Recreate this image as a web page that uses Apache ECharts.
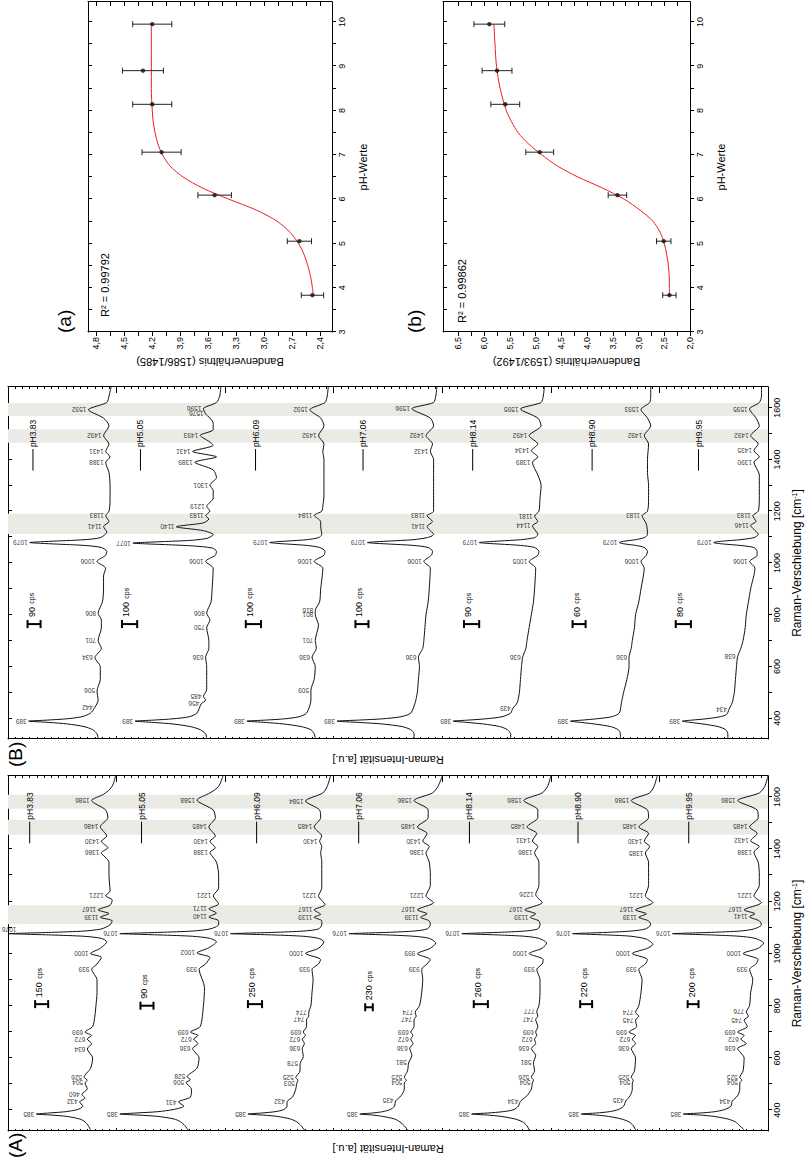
<!DOCTYPE html>
<html><head><meta charset="utf-8">
<script src="https://cdn.jsdelivr.net/npm/echarts@6/dist/echarts.min.js"></script>
<style>
html,body{margin:0;padding:0;background:#fff;overflow:hidden;width:811px;height:1167px;}
#chart{position:absolute;left:0;top:0;width:1167px;height:811px;transform-origin:0 0;transform:translate(0px,1167px) rotate(-90deg);}
</style></head><body><div id="chart"></div>
<script>
// ---------- DATA ----------
const ramanTicks = [400, 600, 800, 1000, 1200, 1400, 1600];
const ramanTicksMinor = [400, 500, 600, 700, 800, 900, 1000, 1100, 1200, 1300, 1400, 1500, 1600];
const phLabels = ['pH3.83', 'pH5.05', 'pH6.09', 'pH7.06', 'pH8.14', 'pH8.90', 'pH9.95'];

// Panel (A) spectra [Raman shift, intensity within its strip]
const spA1 = [[324,24],[340,26],[355,29],[366,34],[376,46],[381,60],[385,74],[389,62],[394,47],[402,36],[415,31],[432,34],[446,29],[460,32],[482,27],[504,29],[515,27],[526,30],[560,24],[600,22],[634,27],[655,23],[672,27],[686,23],[699,29],[720,22],[760,20],[800,19],[850,18],[900,18],[939,23],[960,18],[985,14],[1000,24],[1020,15],[1045,9],[1058,14],[1066,30],[1071,60],[1074,85],[1076,99],[1078,85],[1081,60],[1086,30],[1094,14],[1110,6],[1125,4],[1139,15],[1153,7],[1167,17],[1185,6],[1205,4],[1221,10],[1240,6],[1300,7],[1350,7],[1386,14],[1405,8],[1430,14],[1450,9],[1486,15],[1520,8],[1550,10],[1586,23],[1610,12],[1630,6],[1650,3],[1680,1]];
const spA2 = [[324,34],[340,37],[355,41],[366,47],[376,62],[381,80],[385,97],[389,82],[394,62],[402,48],[415,38],[431,43],[450,32],[480,31],[506,36],[516,32],[528,35],[560,26],[600,24],[636,30],[655,25],[672,29],[686,25],[699,32],[720,23],[800,20],[870,19],[939,24],[960,18],[985,14],[1002,26],[1022,15],[1045,8],[1058,14],[1066,30],[1071,60],[1074,83],[1076,97],[1078,83],[1081,60],[1086,30],[1094,14],[1110,6],[1125,6],[1140,15],[1155,8],[1171,15],[1190,6],[1221,11],[1250,6],[1300,6],[1350,8],[1388,14],[1405,9],[1430,14],[1450,9],[1485,15],[1520,9],[1550,11],[1588,26],[1615,14],[1640,6],[1680,2]];
const spA3 = [[324,27],[340,30],[355,34],[366,40],[376,52],[381,65],[385,79],[389,66],[394,54],[402,46],[415,43],[432,43],[450,38],[480,35],[503,34],[514,33],[525,35],[550,31],[578,31],[605,28],[636,29],[655,27],[672,29],[686,26],[699,28],[720,25],[747,25],[760,23],[774,23],[800,21],[850,20],[900,19],[939,20],[960,14],[977,12],[1000,26],[1020,14],[1045,9],[1058,14],[1066,28],[1071,55],[1074,80],[1076,95],[1078,80],[1081,55],[1086,28],[1094,14],[1110,11],[1125,11],[1139,18],[1150,12],[1167,18],[1187,8],[1221,14],[1250,11],[1300,11],[1352,11],[1386,12],[1410,11],[1430,13],[1450,11],[1485,18],[1520,12],[1550,13],[1584,26],[1615,10],[1640,6],[1680,3]];
const spA4 = [[324,32],[340,35],[355,39],[366,44],[376,55],[381,64],[385,76],[389,64],[394,55],[402,48],[415,44],[435,43],[455,38],[480,35],[504,35],[515,33],[525,35],[550,32],[581,31],[610,28],[636,30],[655,27],[672,29],[686,27],[699,29],[720,26],[747,26],[760,24],[774,25],[800,21],[850,19],[900,18],[939,19],[960,14],[977,11],[999,23],[1020,11],[1040,6],[1058,12],[1066,26],[1071,50],[1074,73],[1076,86],[1078,73],[1081,50],[1086,26],[1094,14],[1110,11],[1125,12],[1139,20],[1152,14],[1167,23],[1195,8],[1221,15],[1260,11],[1300,11],[1350,12],[1386,15],[1410,12],[1430,18],[1460,14],[1485,23],[1520,13],[1550,13],[1586,26],[1615,9],[1640,4],[1680,0]];
const spA5 = [[324,20],[340,22],[355,26],[366,33],[376,46],[381,58],[385,73],[389,58],[394,44],[402,34],[415,30],[434,28],[455,22],[480,18],[504,17],[515,16],[526,18],[550,15],[581,16],[610,14],[636,18],[655,14],[672,15],[686,13],[699,14],[720,12],[747,14],[760,12],[777,13],[800,11],[850,10],[900,10],[939,13],[960,8],[977,7],[1000,20],[1020,8],[1040,4],[1058,11],[1066,24],[1071,48],[1074,70],[1076,82],[1078,70],[1081,48],[1086,24],[1094,12],[1110,10],[1125,11],[1139,19],[1152,14],[1167,24],[1195,8],[1226,14],[1260,11],[1300,11],[1350,11],[1386,15],[1410,12],[1431,17],[1460,13],[1485,22],[1520,12],[1550,12],[1586,25],[1615,8],[1640,3],[1680,0]];
const spA6 = [[324,22],[340,24],[355,28],[366,35],[376,47],[381,58],[385,72],[389,58],[394,46],[402,38],[415,33],[435,31],[455,27],[480,25],[504,25],[515,24],[525,26],[550,23],[600,22],[636,26],[655,22],[672,25],[686,22],[699,28],[720,21],[745,22],[760,19],[774,22],[800,19],[850,17],[900,16],[939,19],[960,13],[977,11],[1000,25],[1020,11],[1035,6],[1055,12],[1066,26],[1071,48],[1074,68],[1076,80],[1078,68],[1081,48],[1086,26],[1094,13],[1110,8],[1125,10],[1139,19],[1152,12],[1167,22],[1195,6],[1221,13],[1260,10],[1300,10],[1350,10],[1385,13],[1410,9],[1430,14],[1460,10],[1485,19],[1520,10],[1550,11],[1586,26],[1615,9],[1640,5],[1680,2]];
const spA7 = [[324,22],[340,26],[355,30],[366,37],[376,50],[381,62],[385,78],[389,62],[394,49],[402,40],[415,34],[434,33],[455,28],[480,26],[504,26],[515,24],[525,26],[550,23],[600,22],[636,28],[655,20],[672,25],[686,22],[699,28],[720,19],[745,22],[760,18],[776,20],[800,17],[850,16],[900,14],[939,17],[960,11],[977,9],[1000,23],[1020,9],[1040,4],[1058,12],[1066,26],[1071,52],[1074,75],[1076,88],[1078,75],[1081,52],[1086,26],[1094,13],[1110,6],[1125,8],[1141,17],[1152,12],[1167,22],[1195,6],[1221,13],[1260,8],[1300,8],[1350,9],[1388,13],[1410,8],[1432,16],[1460,10],[1485,17],[1520,9],[1550,10],[1586,28],[1615,8],[1640,3],[1680,0]];

// Panel (B) spectra
const spB1 = [[324,17],[340,18],[356,22],[368,30],[378,45],[384,62],[389,81],[393,64],[398,46],[406,32],[420,24],[442,20],[470,17],[506,18],[550,15],[600,15],[634,20],[670,14],[701,17],[750,14],[780,14],[806,17],[850,13],[900,12],[950,12],[980,10],[1006,18],[1030,10],[1045,9],[1060,14],[1068,30],[1073,55],[1076,70],[1079,80],[1082,70],[1085,55],[1090,30],[1098,15],[1120,9],[1141,12],[1160,7],[1183,10],[1200,7],[1240,6],[1300,6],[1350,7],[1388,10],[1410,6],[1431,10],[1460,7],[1492,12],[1530,7],[1560,12],[1592,26],[1620,9],[1645,7],[1680,5]];
const spB2 = [[324,17],[340,18],[356,23],[368,32],[378,48],[384,66],[389,83],[393,66],[398,48],[406,33],[420,26],[456,22],[470,18],[485,20],[510,17],[550,17],[600,17],[636,18],[670,15],[700,15],[750,17],[780,14],[806,17],[850,13],[900,12],[980,11],[1006,18],[1030,9],[1045,8],[1058,12],[1066,30],[1071,55],[1074,73],[1077,85],[1080,73],[1083,55],[1088,30],[1096,16],[1110,11],[1125,20],[1140,45],[1155,20],[1170,15],[1183,18],[1200,14],[1219,17],[1250,11],[1280,11],[1301,14],[1330,8],[1360,11],[1389,28],[1410,8],[1431,30],[1455,11],[1470,15],[1493,23],[1515,11],[1540,11],[1560,14],[1576,18],[1596,20],[1620,8],[1645,5],[1680,4]];
const spB3 = [[324,17],[340,18],[356,21],[368,30],[378,46],[384,63],[389,80],[393,63],[398,45],[406,32],[420,25],[470,21],[509,21],[550,18],[600,17],[636,20],[670,16],[701,17],[760,14],[801,17],[816,17],[850,13],[900,12],[980,10],[1006,18],[1030,9],[1045,8],[1060,13],[1068,25],[1073,42],[1076,53],[1079,59],[1082,53],[1085,42],[1090,25],[1098,14],[1110,11],[1141,12],[1160,12],[1184,18],[1200,11],[1220,10],[1260,9],[1300,9],[1350,9],[1400,9],[1430,10],[1460,9],[1492,14],[1530,9],[1560,12],[1592,22],[1620,8],[1645,6],[1680,5]];
const spB4 = [[324,26],[340,26],[356,29],[368,37],[378,55],[384,77],[389,97],[393,77],[398,55],[406,38],[420,29],[460,25],[500,23],[550,22],[600,21],[636,22],[670,18],[700,17],[750,16],[800,15],[850,13],[900,12],[980,11],[1006,17],[1030,10],[1045,9],[1060,13],[1068,27],[1073,48],[1076,61],[1079,69],[1082,61],[1085,48],[1090,27],[1098,14],[1110,8],[1141,14],[1160,9],[1183,14],[1200,8],[1250,8],[1300,8],[1350,8],[1400,8],[1432,11],[1460,9],[1492,15],[1530,8],[1560,11],[1596,28],[1620,8],[1645,6],[1680,5]];
const spB5 = [[324,37],[340,37],[356,40],[368,47],[378,62],[384,77],[389,90],[393,76],[398,60],[406,45],[420,37],[439,35],[460,31],[500,29],[550,28],[600,27],[636,26],[670,23],[700,22],[750,20],[800,18],[850,16],[900,15],[980,14],[1005,20],[1030,12],[1045,11],[1060,15],[1068,28],[1073,47],[1076,59],[1079,66],[1082,59],[1085,47],[1090,28],[1098,15],[1110,12],[1144,17],[1160,12],[1181,15],[1200,11],[1250,10],[1300,9],[1340,12],[1389,17],[1410,12],[1434,18],[1460,12],[1492,20],[1530,9],[1560,12],[1595,28],[1620,9],[1645,7],[1680,6]];
const spB6 = [[324,36],[340,36],[356,38],[368,45],[378,60],[384,72],[389,82],[393,71],[398,58],[406,44],[420,37],[460,35],[500,33],[550,30],[600,28],[636,28],[670,26],[700,25],[750,23],[800,22],[850,19],[900,17],[980,14],[1006,17],[1030,12],[1045,11],[1060,14],[1068,22],[1073,31],[1076,35],[1079,37],[1082,35],[1085,31],[1090,22],[1098,14],[1110,11],[1150,12],[1183,16],[1200,11],[1250,10],[1300,10],[1350,11],[1400,11],[1460,10],[1492,14],[1530,8],[1560,11],[1593,17],[1620,9],[1645,8],[1680,8]];
const spB7 = [[324,37],[340,37],[356,39],[368,46],[378,60],[384,71],[389,79],[393,70],[398,57],[406,44],[415,38],[434,36],[460,33],[500,31],[550,30],[600,29],[638,28],[670,25],[700,23],[750,21],[800,20],[850,18],[900,16],[980,12],[1006,17],[1030,10],[1045,10],[1060,13],[1068,26],[1073,40],[1076,47],[1079,50],[1082,47],[1085,40],[1090,26],[1098,13],[1110,9],[1146,16],[1160,11],[1183,14],[1200,9],[1250,8],[1300,8],[1340,8],[1390,13],[1410,8],[1435,13],[1460,9],[1492,16],[1530,8],[1560,11],[1595,17],[1620,8],[1645,6],[1680,6]];

// Labelled band positions
const pkA1 = [385,432,460,504,526,634,672,699,939,1000,1076,1139,1167,1221,1386,1430,1486,1586];
const pkA2 = [385,431,506,528,636,672,699,939,1002,1076,1140,1171,1221,1388,1430,1485,1588];
const pkA3 = [385,432,503,525,578,636,672,699,747,774,939,1000,1076,1139,1167,1221,1430,1485,1584];
const pkA4 = [385,435,504,525,581,636,672,699,747,774,939,999,1076,1139,1167,1221,1386,1430,1485,1586];
const pkA5 = [385,434,504,526,581,636,672,699,747,777,939,1000,1076,1139,1167,1226,1386,1431,1485,1586];
const pkA6 = [385,435,504,525,636,672,699,745,774,939,1000,1076,1139,1167,1221,1385,1430,1485,1586];
const pkA7 = [385,434,504,525,636,672,699,745,776,939,1000,1076,1141,1167,1221,1388,1432,1485,1586];
const pkB1 = [389,442,506,634,701,806,1006,1079,1141,1183,1388,1431,1492,1592];
const pkB2 = [389,456,485,636,750,806,1006,1077,1140,1183,1219,1301,1389,1431,1493,1576,1596];
const pkB3 = [389,509,636,701,801,816,1006,1079,1184,1492,1592];
const pkB4 = [389,636,1006,1079,1141,1183,1432,1492,1596];
const pkB5 = [389,439,636,1005,1079,1144,1181,1389,1434,1492,1595];
const pkB6 = [389,636,1006,1079,1183,1492,1593];
const pkB7 = [389,434,638,1006,1079,1146,1183,1390,1435,1492,1595];

// Intensity scale bars [shift, top, bottom, cps]
const barsA = [[806,75,63,'150'],[800,78,66,'90'],[806,79,66,'250'],[794,71,64,'230'],[806,71,58,'260'],[806,73,62,'220'],[806,74,64,'200']];
const barsB = [[764,82,70,'90'],[764,95,81,'100'],[764,81,67,'100'],[764,80,68,'100'],[764,80,66,'90'],[764,80,68,'60'],[764,85,71,'80']];
// pH tags [line start, line end, level]
const tagsA = [[1422,1505,80],[1422,1505,77],[1422,1505,71],[1422,1505,77],[1422,1505,75],[1422,1505,75],[1422,1505,73]];
const tagsB = [[1357,1440,77],[1357,1440,78],[1357,1440,72],[1357,1440,73],[1357,1440,72],[1357,1440,62],[1357,1440,64]];
// shaded band regions
const bandsA = [[1112,1185],[1455,1512],[1555,1608]];
const bandsB = [[1112,1190],[1465,1517],[1568,1618]];

// Ratio panels
const phVals = [3.83, 5.05, 6.09, 7.06, 8.14, 8.90, 9.95];
const ratioA = [2.48, 2.62, 3.53, 4.10, 4.20, 4.30, 4.20];
const errA = [0.12, 0.13, 0.18, 0.21, 0.21, 0.22, 0.21];
const ratioB = [2.40, 2.51, 3.41, 4.92, 5.59, 5.75, 5.90];
const errB = [0.13, 0.14, 0.18, 0.27, 0.28, 0.29, 0.30];
const fitPhA = [3.83,4.0,4.25,4.5,4.75,5.0,5.25,5.5,5.75,6.0,6.25,6.5,6.75,7.0,7.25,7.5,7.75,8.0,8.5,9.0,9.5,9.95];
const fitA = [2.47,2.48,2.50,2.53,2.57,2.63,2.72,2.86,3.08,3.38,3.66,3.87,4.01,4.09,4.14,4.17,4.19,4.20,4.21,4.21,4.21,4.21];
const fitPhB = [3.83,4.0,4.5,5.0,5.25,5.5,5.75,6.0,6.25,6.5,6.75,7.0,7.25,7.5,7.75,8.0,8.5,9.0,9.5,9.95];
const fitB = [2.40,2.40,2.42,2.50,2.58,2.72,2.97,3.28,3.70,4.18,4.58,4.88,5.14,5.34,5.47,5.57,5.69,5.76,5.79,5.81];
const phTicks = [3, 4, 5, 6, 7, 8, 9, 10];
const ratioTicksA = [2.4, 2.7, 3.0, 3.3, 3.6, 3.9, 4.2, 4.5, 4.8];
const ratioTicksB = [2.0, 2.5, 3.0, 3.5, 4.0, 4.5, 5.0, 5.5, 6.0, 6.5];

// ---------- BUILD ----------
const FONT = '"Liberation Sans", Arial, Helvetica, sans-serif';
const INK = '#000';
const specsA = [spA1, spA2, spA3, spA4, spA5, spA6, spA7];
const specsB = [spB1, spB2, spB3, spB4, spB5, spB6, spB7];
const peaksA = [pkA1, pkA2, pkA3, pkA4, pkA5, pkA6, pkA7];
const peaksB = [pkB1, pkB2, pkB3, pkB4, pkB5, pkB6, pkB7];
const STRIP = 100;
const TOP = 7 * STRIP;
const off = k => (6 - k) * STRIP;

function mids(arr) { const o = []; for (let i = 0; i < arr.length - 1; i++) o.push(+((arr[i] + arr[i + 1]) / 2).toFixed(3)); return arr.concat(o).sort((a, b) => a - b); }

function bandSeries(bands, xi, yi) {
  return { type: 'custom', xAxisIndex: xi, yAxisIndex: yi, z: 1, silent: true, data: bands, encode: { x: [0, 1] },
    renderItem: (p, api) => {
      const a = api.coord([api.value(0), TOP]); const b = api.coord([api.value(1), 0]);
      return { type: 'rect', shape: { x: a[0], y: a[1], width: b[0] - a[0], height: b[1] - a[1] }, style: { fill: '#ebebe6' } };
    } };
}
function spectraSeries(specs, peaks, xi, yi) {
  const out = [];
  specs.forEach((sp, k) => {
    out.push({ type: 'line', xAxisIndex: xi, yAxisIndex: yi, data: sp.map(p => [p[0], p[1] + off(k)]), symbol: 'none', smooth: 0.25,
      lineStyle: { color: '#111', width: 1 }, z: 3, clip: false, silent: true, animation: false });
  });
  const lab = [];
  specs.forEach((sp, k) => {
    peaks[k].forEach(c => {
      let best = sp[0];
      sp.forEach(p => { if (Math.abs(p[0] - c) < Math.abs(best[0] - c)) best = p; });
      const y = best[1] + off(k);
      const item = { value: [c, y, String(c)] };
      if (y > TOP - 12) {
        item.label = { position: 'right', distance: 1, rotate: 90, align: 'center', verticalAlign: 'top' };
      }
      lab.push(item);
    });
  });
  out.push({ type: 'scatter', xAxisIndex: xi, yAxisIndex: yi, data: lab, symbolSize: 0, silent: true, z: 4, animation: false,
    label: { show: true, position: 'top', distance: 2, rotate: 90, align: 'left', verticalAlign: 'middle', fontSize: 6.5, fontFamily: FONT, color: INK, formatter: p => p.value[2] } });
  return out;
}
function barSeries(bars, xi, yi) {
  return { type: 'custom', xAxisIndex: xi, yAxisIndex: yi, z: 5, silent: true,
    data: bars.map((b, k) => [b[0], b[1] + off(k), b[2] + off(k)]), encode: { x: 0, y: [1, 2] },
    renderItem: (p, api) => {
      const t = api.coord([api.value(0), api.value(1)]); const b = api.coord([api.value(0), api.value(2)]);
      const s = { stroke: INK, lineWidth: 2 };
      const txt = bars[p.dataIndex][3];
      return { type: 'group', children: [
        { type: 'line', shape: { x1: t[0], y1: t[1], x2: b[0], y2: b[1] }, style: s },
        { type: 'line', shape: { x1: t[0] - 4, y1: t[1], x2: t[0] + 4, y2: t[1] }, style: s },
        { type: 'line', shape: { x1: b[0] - 4, y1: b[1], x2: b[0] + 4, y2: b[1] }, style: s },
        { type: 'text', x: t[0] + 7, y: t[1] - 2, style: { text: '{n|' + txt + '} {c|cps}', verticalAlign: 'top', align: 'left', fill: INK,
          rich: { n: { fontSize: 9, fontFamily: FONT, fill: INK }, c: { fontSize: 7, fontFamily: FONT, fill: INK } } } }
      ] };
    } };
}
function tagSeries(tags, xi, yi) {
  return { type: 'custom', xAxisIndex: xi, yAxisIndex: yi, z: 5, silent: true,
    data: tags.map((t, k) => [t[0], t[1], t[2] + off(k)]), encode: { x: [0, 1], y: 2 },
    renderItem: (p, api) => {
      const a = api.coord([api.value(0), api.value(2)]); const b = api.coord([api.value(1), api.value(2)]);
      return { type: 'group', children: [
        { type: 'line', shape: { x1: a[0], y1: a[1], x2: b[0], y2: b[1] }, style: { stroke: INK, lineWidth: 1 } },
        { type: 'text', x: b[0] + 2, y: b[1], style: { text: phLabels[p.dataIndex], fontSize: 8.5, fontFamily: FONT, fill: INK, align: 'left', verticalAlign: 'middle' } }
      ] };
    } };
}
function errSeries(ph, r, e, xi, yi) {
  return { type: 'custom', xAxisIndex: xi, yAxisIndex: yi, z: 4, silent: true,
    data: ph.map((x, i) => [x, r[i] - e[i], r[i] + e[i]]), encode: { x: 0, y: [1, 2] },
    renderItem: (p, api) => {
      const lo = api.coord([api.value(0), api.value(1)]); const hi = api.coord([api.value(0), api.value(2)]);
      const s = { stroke: '#222', lineWidth: 1 };
      return { type: 'group', children: [
        { type: 'line', shape: { x1: lo[0], y1: lo[1], x2: hi[0], y2: hi[1] }, style: s },
        { type: 'line', shape: { x1: lo[0] - 3, y1: lo[1], x2: lo[0] + 3, y2: lo[1] }, style: s },
        { type: 'line', shape: { x1: hi[0] - 3, y1: hi[1], x2: hi[0] + 3, y2: hi[1] }, style: s }
      ] };
    } };
}

const AL = { show: true, onZero: false, lineStyle: { color: INK, width: 1 } };
const TL = { color: INK, width: 1 };
function ramanX(gi, bottom) {
  return { type: 'value', gridIndex: gi, position: bottom ? 'bottom' : 'top', min: 320, max: 1680,
    axisLine: AL, splitLine: { show: false },
    axisTick: { show: true, inside: !bottom, length: 4, customValues: ramanTicksMinor, lineStyle: TL },
    axisLabel: { show: bottom, customValues: ramanTicks, fontSize: 9, margin: 4, color: INK, fontFamily: FONT, formatter: v => String(Math.round(v)) },
    name: bottom ? 'Raman-Verschiebung [cm{s|-1}]' : '', nameLocation: 'middle', nameGap: 23,
    nameTextStyle: { fontSize: 12, fontFamily: FONT, color: INK, rich: { s: { fontSize: 7, verticalAlign: 'top', fontFamily: FONT, color: INK } } } };
}
function intY(gi, left, gap) {
  return { type: 'value', gridIndex: gi, position: left ? 'left' : 'right', min: 0, max: TOP, interval: STRIP,
    axisLine: AL, splitLine: { show: false }, axisLabel: { show: false },
    axisTick: { show: true, inside: true, length: left ? 3 : 6, lineStyle: TL },
    minorTick: { show: true, splitNumber: 15, length: 2, lineStyle: TL },
    name: left ? 'Raman-Intensität [a.u.]' : '', nameLocation: 'middle', nameGap: gap,
    nameTextStyle: { fontSize: 11, fontFamily: FONT, color: INK } };
}
function phX(gi, bottom) {
  return { type: 'value', gridIndex: gi, position: bottom ? 'bottom' : 'top', min: 3, max: 10.45,
    axisLine: AL, splitLine: { show: false },
    axisTick: { show: true, inside: !bottom, length: 4, customValues: mids(phTicks), lineStyle: TL },
    axisLabel: { show: bottom, customValues: phTicks, fontSize: 9, margin: 5, color: INK, fontFamily: FONT, formatter: v => String(Math.round(v)) },
    name: bottom ? 'pH-Werte' : '', nameLocation: 'middle', nameGap: 25,
    nameTextStyle: { fontSize: 11, fontFamily: FONT, color: INK } };
}
function ratioY(gi, left, min, max, ticks, name) {
  return { type: 'value', gridIndex: gi, position: left ? 'left' : 'right', min: min, max: max,
    axisLine: AL, splitLine: { show: false },
    axisTick: { show: true, inside: !left, length: 4, customValues: mids(ticks), lineStyle: TL },
    axisLabel: { show: left, customValues: ticks, fontSize: 9, margin: 5, color: INK, fontFamily: FONT, formatter: v => v.toFixed(1).replace('.', ',') },
    name: left ? name : '', nameLocation: 'middle', nameGap: 24,
    nameTextStyle: { fontSize: 11, fontFamily: FONT, color: INK } };
}

const series = [].concat(
  [bandSeries(bandsA, 0, 0), bandSeries(bandsB, 2, 2)],
  spectraSeries(specsA, peaksA, 0, 0), spectraSeries(specsB, peaksB, 2, 2),
  [barSeries(barsA, 0, 0), barSeries(barsB, 2, 2), tagSeries(tagsA, 0, 0), tagSeries(tagsB, 2, 2)],
  [
    { type: 'line', xAxisIndex: 4, yAxisIndex: 4, data: fitPhA.map((x, i) => [x, fitA[i]]), symbol: 'none', smooth: 0.3, lineStyle: { color: '#ee1c24', width: 1 }, z: 3, silent: true },
    errSeries(phVals, ratioA, errA, 4, 4),
    { type: 'scatter', xAxisIndex: 4, yAxisIndex: 4, data: phVals.map((x, i) => [x, ratioA[i]]), symbolSize: 4.5, itemStyle: { color: '#111' }, z: 5, silent: true },
    { type: 'line', xAxisIndex: 6, yAxisIndex: 6, data: fitPhB.map((x, i) => [x, fitB[i]]), symbol: 'none', smooth: 0.3, lineStyle: { color: '#ee1c24', width: 1 }, z: 3, silent: true },
    errSeries(phVals, ratioB, errB, 6, 6),
    { type: 'scatter', xAxisIndex: 6, yAxisIndex: 6, data: phVals.map((x, i) => [x, ratioB[i]]), symbolSize: 4.5, itemStyle: { color: '#111' }, z: 5, silent: true }
  ]
);

const option = {
  animation: false,
  backgroundColor: '#fff',
  grid: [
    { left: 36, top: 8, width: 355, height: 760, outerBoundsMode: 'none' },
    { left: 428, top: 8, width: 352, height: 760, outerBoundsMode: 'none' },
    { left: 835, top: 88, width: 330, height: 244, outerBoundsMode: 'none' },
    { left: 835, top: 443, width: 330, height: 247, outerBoundsMode: 'none' }
  ],
  xAxis: [ramanX(0, true), ramanX(0, false), ramanX(1, true), ramanX(1, false), phX(2, true), phX(2, false), phX(3, true), phX(3, false)],
  yAxis: [intY(0, true, 12), intY(0, false, 0), intY(1, true, 15), intY(1, false, 0),
    ratioY(2, true, 2.27, 4.89, ratioTicksA, 'Bandenverhältnis (1586/1485)'), ratioY(2, false, 2.27, 4.89, ratioTicksA, ''),
    ratioY(3, true, 2.0, 6.8, ratioTicksB, 'Bandenverhältnis (1593/1492)'), ratioY(3, false, 2.0, 6.8, ratioTicksB, '')],
  graphic: [
    { type: 'text', left: 9, top: 6, style: { text: '(A)', fontSize: 19, fontFamily: FONT, fill: INK } },
    { type: 'text', left: 400, top: 6, style: { text: '(B)', fontSize: 19, fontFamily: FONT, fill: INK } },
    { type: 'text', left: 834, top: 55, style: { text: '(a)', fontSize: 19, fontFamily: FONT, fill: INK } },
    { type: 'text', left: 834, top: 405, style: { text: '(b)', fontSize: 19, fontFamily: FONT, fill: INK } },
    { type: 'text', left: 850, top: 99, style: { text: 'R² = 0.99792', fontSize: 11, fontFamily: FONT, fill: INK } },
    { type: 'text', left: 844, top: 456, style: { text: 'R² = 0.99862', fontSize: 11, fontFamily: FONT, fill: INK } }
  ],
  series: series
};
const chart = echarts.init(document.getElementById('chart'), null, { renderer: 'svg' });
chart.setOption(option);
</script></body></html>
